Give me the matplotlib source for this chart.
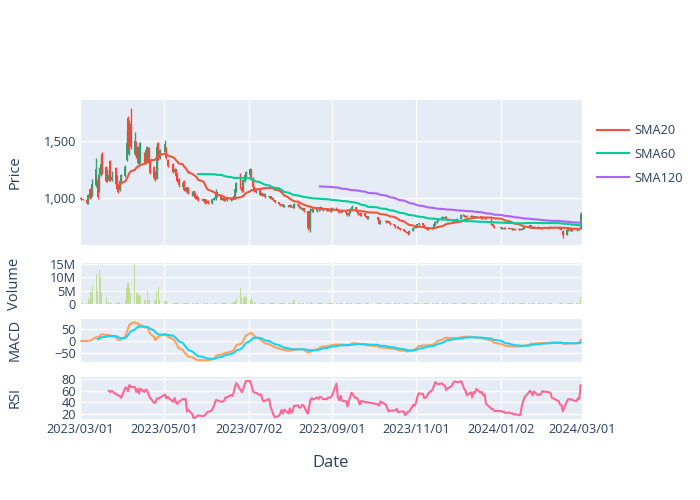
import numpy as np
import pandas as pd
import matplotlib
matplotlib.use("Agg")
import matplotlib.pyplot as plt
from matplotlib.lines import Line2D
from matplotlib.ticker import FuncFormatter

plt.rcParams['font.family'] = ['Open Sans', 'DejaVu Sans']
TXT = '#2a3f5f'

# trading calendar (KRX holidays removed)
holidays = ["2023-05-01", "2023-05-05", "2023-05-29", "2023-06-06", "2023-08-15",
            "2023-09-28", "2023-09-29", "2023-10-02", "2023-10-03", "2023-10-09",
            "2023-12-25", "2023-12-29", "2024-01-01", "2024-02-09", "2024-02-12"]
dates = pd.bdate_range("2023-03-02", "2024-02-29")
dates = dates[~dates.isin(pd.to_datetime(holidays))]

# daily OHLC, one row per month
open_ = [
    1000, 992, 985, 960, 1080, 1005, 1020, 1110, 1160, 1060, 1200, 1390, 1270, 1150, 1160, 1320, 1160, 1260, 1190, 1115, 1070, 1130,
    1190, 1335, 1700, 1390, 1650, 1390, 1480, 1305, 1420, 1320, 1390, 1305, 1320, 1435, 1335, 1275, 1230, 1170, 1480, 1350,
    1400, 1440, 1330, 1300, 1230, 1250, 1210, 1170, 1100, 1150, 1060, 1095, 1090, 1030, 1060, 1040, 1020, 1000, 975, 990,
    985, 975, 955, 985, 990, 1050, 1015, 985, 1000, 975, 990, 980, 990, 1015, 995, 1060, 1180, 1090, 1060, 1150, 1180,
    1200, 1250, 1170, 1100, 1050, 1075, 1030, 1045, 1020, 1035, 1005, 1015, 995, 1000, 980, 965, 945, 935, 945, 930, 935,
    925, 940, 925, 915, 950, 935, 920, 905, 910, 885, 730, 890, 905, 885, 910, 900, 920, 900, 910, 890, 905, 885,
    895, 915, 900, 885, 875, 890, 880, 865, 850, 870, 905, 920, 890, 875, 860, 850, 865, 840, 825,
    830, 810, 775, 800, 790, 800, 785, 770, 760, 745, 750, 735, 725, 715, 705, 700, 690, 715, 740,
    745, 750, 770, 778, 760, 740, 730, 725, 735, 745, 770, 790, 800, 815, 830, 825, 835, 820, 810, 800, 805, 810,
    815, 820, 855, 850, 840, 845, 835, 845, 830, 842, 828, 838, 825, 835, 822, 832, 818, 770, 755,
    745, 735, 741, 732, 738, 729, 735, 726, 732, 723, 729, 720, 728, 735, 742, 748, 762, 750, 742, 748, 740, 734,
    740, 742, 746, 736, 742, 748, 738, 732, 736, 715, 675, 720, 725, 716, 725, 720, 718, 725, 728,
]
high = [
    1005, 995, 990, 1035, 1090, 1030, 1170, 1350, 1180, 1270, 1370, 1400, 1280, 1250, 1250, 1330, 1240, 1270, 1200, 1120, 1160, 1210,
    1290, 1600, 1720, 1680, 1785, 1580, 1500, 1460, 1430, 1490, 1400, 1430, 1460, 1450, 1340, 1280, 1240, 1480, 1490, 1430,
    1510, 1450, 1340, 1310, 1260, 1255, 1215, 1175, 1145, 1160, 1095, 1100, 1095, 1060, 1065, 1045, 1025, 1005, 1000, 995,
    990, 980, 995, 1005, 1075, 1055, 1020, 1005, 1005, 995, 995, 1000, 1005, 1020, 1090, 1140, 1220, 1110, 1165, 1205, 1240,
    1265, 1255, 1180, 1105, 1080, 1080, 1050, 1048, 1040, 1038, 1020, 1018, 1005, 1002, 985, 968, 950, 950, 948, 940, 938,
    945, 942, 930, 960, 955, 940, 925, 915, 912, 890, 910, 915, 910, 920, 915, 930, 925, 915, 915, 910, 910, 900,
    920, 925, 905, 890, 895, 895, 885, 870, 875, 910, 940, 925, 895, 880, 865, 870, 868, 845, 845,
    835, 812, 805, 805, 805, 802, 790, 775, 762, 755, 752, 740, 730, 720, 712, 705, 720, 745, 750,
    755, 775, 785, 780, 762, 745, 735, 740, 750, 775, 795, 805, 820, 840, 835, 840, 838, 825, 815, 810, 815, 820,
    825, 860, 860, 852, 848, 848, 848, 847, 845, 845, 840, 840, 838, 837, 834, 834, 822, 772, 758,
    749, 745, 745, 742, 742, 739, 739, 736, 736, 733, 733, 732, 739, 746, 752, 766, 766, 754, 752, 752, 744, 744,
    745, 750, 748, 745, 752, 750, 742, 740, 738, 718, 725, 728, 727, 728, 727, 725, 728, 732, 875,
]
low = [
    985, 980, 950, 950, 995, 1000, 1015, 1100, 990, 1050, 1190, 1210, 1140, 1140, 1150, 1150, 1150, 1110, 1075, 1040, 1060, 1120,
    1180, 1320, 1430, 1380, 1430, 1380, 1350, 1295, 1295, 1310, 1295, 1300, 1310, 1300, 1210, 1170, 1150, 1165, 1330, 1340,
    1390, 1340, 1270, 1220, 1225, 1180, 1140, 1100, 1095, 1065, 1055, 1045, 1035, 1015, 1015, 995, 985, 975, 970, 950,
    960, 950, 950, 980, 985, 1010, 980, 980, 970, 970, 975, 975, 985, 990, 990, 1055, 1075, 1055, 1055, 1140, 1175,
    1195, 1160, 1095, 1055, 1045, 1025, 1025, 1015, 1015, 1000, 1000, 990, 990, 975, 960, 940, 930, 930, 925, 925, 920,
    920, 920, 910, 912, 930, 915, 900, 895, 880, 720, 700, 880, 880, 880, 890, 895, 895, 890, 885, 885, 880, 875,
    890, 895, 880, 870, 870, 875, 860, 845, 845, 865, 900, 885, 870, 855, 845, 845, 835, 820, 820,
    800, 770, 770, 785, 788, 780, 765, 755, 740, 740, 730, 720, 710, 700, 695, 675, 688, 712, 735,
    740, 748, 765, 755, 735, 725, 720, 722, 730, 742, 765, 785, 795, 810, 815, 820, 815, 805, 795, 795, 800, 805,
    810, 818, 840, 835, 835, 830, 832, 825, 828, 823, 826, 820, 823, 817, 820, 813, 765, 750, 740,
    731, 731, 728, 728, 725, 725, 722, 722, 719, 719, 716, 716, 724, 731, 738, 744, 746, 738, 738, 736, 730, 730,
    732, 738, 732, 734, 740, 735, 728, 728, 718, 650, 672, 715, 712, 714, 715, 712, 716, 720, 725,
]
close = [
    990, 985, 960, 1025, 1000, 1020, 1120, 1250, 1010, 1200, 1300, 1220, 1150, 1200, 1200, 1160, 1180, 1120, 1080, 1050, 1150, 1200,
    1275, 1480, 1450, 1560, 1450, 1500, 1365, 1450, 1305, 1480, 1305, 1420, 1450, 1305, 1220, 1175, 1160, 1450, 1340, 1420,
    1470, 1350, 1280, 1230, 1250, 1190, 1150, 1110, 1135, 1070, 1085, 1050, 1040, 1050, 1020, 1000, 990, 980, 995, 960,
    965, 955, 990, 1000, 1050, 1015, 985, 1000, 975, 990, 980, 995, 1000, 995, 1080, 1130, 1080, 1060, 1160, 1200, 1230,
    1250, 1170, 1100, 1060, 1075, 1030, 1045, 1020, 1035, 1005, 1015, 995, 1000, 980, 965, 945, 935, 945, 930, 935, 925,
    940, 925, 915, 950, 935, 920, 905, 910, 885, 740, 890, 905, 885, 910, 900, 920, 900, 910, 890, 905, 885, 895,
    915, 900, 885, 875, 890, 880, 865, 850, 870, 905, 920, 890, 875, 860, 850, 865, 840, 825, 840,
    810, 775, 800, 790, 800, 785, 770, 760, 745, 750, 735, 725, 715, 705, 700, 690, 715, 740, 745,
    750, 770, 778, 760, 740, 730, 725, 735, 745, 770, 790, 800, 815, 830, 825, 835, 820, 810, 800, 805, 810, 815,
    820, 855, 850, 840, 845, 835, 845, 830, 842, 828, 838, 825, 835, 822, 832, 818, 770, 755, 745,
    735, 741, 732, 738, 729, 735, 726, 732, 723, 729, 720, 728, 735, 742, 748, 762, 750, 742, 748, 740, 734, 740,
    742, 746, 736, 742, 748, 738, 732, 736, 722, 675, 720, 725, 716, 725, 720, 718, 725, 728, 860,
]
volume_m = [
    0.3, 0.2, 0.3, 2.0, 1.0, 4.5, 7.0, 11.5, 5.0, 13.0, 10.0, 4.5, 2.5, 0.5, 0.8, 0.6, 0.4, 0.3, 0.2, 0.3, 0.5, 0.3,
    1.5, 6.0, 8.0, 6.0, 4.0, 15.0, 4.0, 4.0, 3.5, 3.5, 1.5, 1.5, 5.0, 1.5, 1.3, 1.5, 1.2, 5.0, 6.5, 1.5,
    1.0, 1.2, 0.4, 0.3, 0.3, 0.2, 0.3, 0.2, 0.1, 0.2, 0.3, 0.2, 0.1, 0.1, 0.2, 0.3, 0.2, 0.1, 0.1, 0.2,
    0.1, 0.1, 0.2, 0.1, 0.1, 0.1, 0.1, 0.1, 0.1, 0.1, 0.1, 0.2, 0.2, 0.5, 1.0, 2.0, 6.0, 2.0, 2.0, 3.0, 2.5,
    1.5, 2.0, 1.0, 0.5, 0.4, 0.3, 0.2, 0.2, 0.1, 0.1, 0.1, 0.1, 0.1, 0.1, 0.1, 0.1, 0.1, 0.1, 0.2, 0.1, 0.1,
    0.2, 0.2, 0.3, 1.5, 0.4, 0.3, 0.2, 0.2, 0.2, 0.6, 0.8, 0.5, 0.3, 0.2, 0.2, 0.3, 0.2, 0.2, 0.1, 0.1, 0.1, 0.1,
    0.2, 0.1, 0.1, 0.1, 0.1, 0.1, 0.1, 0.1, 0.2, 0.3, 0.4, 0.2, 0.1, 0.1, 0.1, 0.1, 0.1, 0.1, 0.1,
    0.1, 0.2, 0.1, 0.1, 0.1, 0.1, 0.1, 0.1, 0.1, 0.1, 0.1, 0.1, 0.1, 0.1, 0.1, 0.2, 0.2, 0.2, 0.1,
    0.1, 0.2, 0.2, 0.1, 0.1, 0.1, 0.1, 0.1, 0.1, 0.2, 0.2, 0.2, 0.2, 0.3, 0.2, 0.2, 0.1, 0.1, 0.1, 0.1, 0.1, 0.1,
    0.1, 0.3, 0.2, 0.1, 0.1, 0.1, 0.1, 0.1, 0.1, 0.1, 0.1, 0.1, 0.1, 0.1, 0.1, 0.1, 0.2, 0.2, 0.1,
    0.1, 0.1, 0.1, 0.1, 0.1, 0.1, 0.1, 0.1, 0.1, 0.1, 0.1, 0.1, 0.1, 0.1, 0.1, 0.2, 0.1, 0.1, 0.1, 0.1, 0.1, 0.1,
    0.1, 0.1, 0.1, 0.1, 0.1, 0.1, 0.1, 0.1, 0.1, 0.3, 0.2, 0.1, 0.1, 0.1, 0.1, 0.1, 0.1, 0.1, 2.5,
]

tick_dates = ["2023-03-01", "2023-05-01", "2023-07-02", "2023-09-01", "2023-11-01", "2024-01-02", "2024-03-01"]
tick_labels = ["2023/03/01", "2023/05/01", "2023/07/02", "2023/09/01", "2023/11/01", "2024/01/02", "2024/03/01"]

df = pd.DataFrame({"open": open_, "high": high, "low": low, "close": close,
                   "volume": np.array(volume_m) * 1e6}, index=dates)

df["sma20"] = df["close"].rolling(20).mean()
df["sma60"] = df["close"].rolling(60).mean()
df["sma120"] = df["close"].rolling(120).mean()
df["macd"] = df["close"].ewm(span=12).mean() - df["close"].ewm(span=26).mean()
df["signal"] = df["macd"].ewm(span=9).mean()
df.iloc[:8, df.columns.get_loc("signal")] = np.nan
delta = df["close"].diff()
gain = delta.clip(lower=0).rolling(14).mean()
loss = (-delta.clip(upper=0)).rolling(14).mean()
df["rsi"] = 100 - 100 / (1 + gain / loss)

fig = plt.figure(figsize=(7, 5), dpi=100)
L, W = 80 / 700, 502 / 700
def box(top, bottom):
    return [L, 1 - bottom / 500, W, (bottom - top) / 500]

ax_p = fig.add_axes(box(100, 245))
ax_v = fig.add_axes(box(263, 304))
ax_m = fig.add_axes(box(319, 362))
ax_r = fig.add_axes(box(377, 419))

xt = pd.to_datetime(tick_dates)
for ax in (ax_p, ax_v, ax_m, ax_r):
    ax.set_facecolor('#E5ECF6')
    for s in ax.spines.values():
        s.set_visible(False)
    ax.grid(True, color='white', linewidth=1)
    ax.set_axisbelow(True)
    ax.tick_params(length=0, labelsize=9.2, colors=TXT, pad=3)
    ax.set_xticks(xt)
    ax.set_xlim(pd.Timestamp("2023-03-01"), pd.Timestamp("2024-03-01"))
    if ax is not ax_r:
        ax.set_xticklabels([])
ax_r.set_xticklabels(tick_labels)

# candles
up = df["close"] >= df["open"]
colors = np.where(up, '#3D9970', '#FF4136')
ax_p.vlines(df.index, df["low"], df["high"], colors=colors, linewidth=1)
body_lo = df[["open", "close"]].min(axis=1)
body_h = (df["close"] - df["open"]).abs().clip(lower=5)
ax_p.bar(df.index, body_h, bottom=body_lo, width=1.4, color=colors, linewidth=0)

ax_p.plot(df.index, df["sma20"], color='#EF553B', lw=1.5)
ax_p.plot(df.index, df["sma60"], color='#00CC96', lw=1.5)
ax_p.plot(df.index, df["sma120"], color='#AB63FA', lw=1.5)
ax_p.set_ylim(588, 1859)
ax_p.set_yticks([1000, 1500])
ax_p.yaxis.set_major_formatter(FuncFormatter(lambda v, p: f"{int(v):,}"))

ax_v.bar(df.index, df["volume"], width=0.8, color='#bfdd96', linewidth=0)
ax_v.set_ylim(-0.1e6, 15.5e6)
ax_v.set_yticks([0, 5e6, 10e6, 15e6])
ax_v.yaxis.set_major_formatter(FuncFormatter(lambda v, p: "0" if v == 0 else f"{int(v / 1e6)}M"))

ax_m.plot(df.index, df["macd"], color='#FFA15A', lw=1.5)
ax_m.plot(df.index, df["signal"], color='#19D3F3', lw=1.5)
ax_m.set_ylim(-88, 92)
ax_m.set_yticks([-50, 0, 50])
ax_m.yaxis.set_major_formatter(FuncFormatter(lambda v, p: f"{int(v)}".replace('-', '\u2212')))

ax_r.plot(df.index, df["rsi"], color='#FF6692', lw=1.5)
ax_r.set_ylim(12, 83)
ax_r.set_yticks([20, 40, 60, 80])

for label, yc in [("Price", 172), ("Volume", 284), ("MACD", 340), ("RSI", 398)]:
    fig.text(15 / 700, 1 - yc / 500, label, rotation=90, ha='center', va='center',
             fontsize=10.5, color=TXT)
fig.text(331 / 700, 1 - 463 / 500, "Date", ha='center', va='center', fontsize=12, color=TXT)

handles = [Line2D([], [], color=c, lw=1.5) for c in ('#EF553B', '#00CC96', '#AB63FA')]
fig.legend(handles, ['SMA20', 'SMA60', 'SMA120'], loc='upper left',
           bbox_to_anchor=(597 / 700, 1 - 124 / 500), frameon=False, fontsize=9.2,
           labelcolor=TXT, handlelength=2.5, handletextpad=0.4, labelspacing=0.85,
           borderaxespad=0, borderpad=0)

fig.savefig("out.png", dpi=100)
